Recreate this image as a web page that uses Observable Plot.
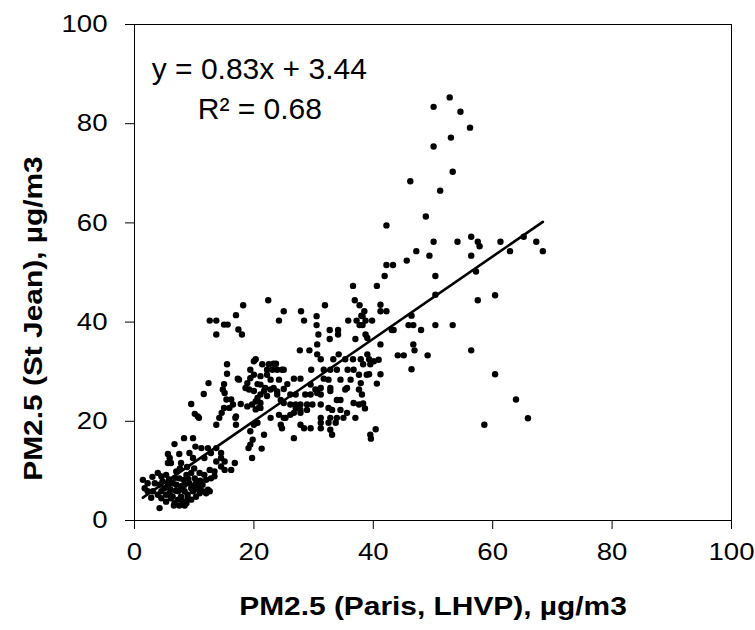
<!DOCTYPE html>
<html>
<head>
<meta charset="utf-8">
<script src="https://cdn.jsdelivr.net/npm/d3@7"></script>
<script src="https://cdn.jsdelivr.net/npm/@observablehq/plot@0.6"></script>
<style>
  html, body { margin: 0; padding: 0; background: #fff; }
  #chart { width: 755px; height: 630px; }
</style>
</head>
<body>
<div id="chart"></div>
<script>
// PM2.5 at Paris (LHVP) vs St Jean, µg/m3
const paris = [
52.8,50.1,54.6,56.2,53.0,50.1,53.3,46.2,51.2,48.8,42.2,50.1,54.1,56.4,57.5,57.8,61.3,65.2,67.3,68.4,
47.2,49.4,56.4,62.9,45.6,42.2,43.3,41.9,50.4,57.2,40.6,50.4,57.5,60.4,41.2,41.2,42.2,39.8,46.4,45.9,
46.7,43.1,43.4,48.0,50.4,53.3,41.2,46.7,46.9,44.1,45.1,49.1,56.4,46.4,40.9,39.3,41.2,40.6,60.4,63.9,
65.9,58.6,40.4,39.6,38.1,38.3,38.6,38.7,39.0,39.5,40.1,38.0,18.2,22.4,25.0,24.2,27.9,28.4,30.5,30.5,
31.9,36.9,37.7,38.5,38.2,35.8,37.2,37.7,38.7,38.2,18.0,32.7,34.1,30.8,32.7,34.1,30.6,37.0,27.7,29.3,
30.6,31.2,39.0,34.2,35.3,20.3,21.4,23.3,23.7,33.3,36.6,37.9,38.3,39.3,19.4,20.0,19.4,22.2,25.0,29.6,
31.7,32.8,33.9,35.7,36.7,37.6,38.9,21.1,22.8,24.2,26.7,27.8,31.7,32.5,34.5,36.2,37.9,18.9,21.1,23.3,
25.6,29.5,30.3,31.2,32.8,35.6,20.0,21.7,30.6,31.2,32.8,21.1,20.6,20.3,23.9,26.1,27.0,28.6,29.5,35.3,
37.6,33.9,34.5,36.7,37.6,24.5,25.0,26.1,27.0,27.8,28.9,29.8,31.2,18.9,21.1,27.8,28.9,32.5,33.1,34.5,
35.6,26.7,27.8,31.2,32.8,33.9,35.0,37.0,22.8,25.0,31.2,32.5,33.7,20.6,24.5,24.7,27.8,28.4,29.5,31.2,
32.8,33.1,19.4,21.7,26.7,39.5,17.8,20.8,21.1,19.8,19.4,20.0,19.1,21.3,19.7,25.3,11.6,15.1,15.4,16.2,
16.5,15.9,9.5,10.1,10.6,15.0,14.6,14.2,13.7,17.0,17.0,8.3,9.8,10.2,6.7,5.6,5.9,5.6,6.1,7.5,
7.8,9.2,9.8,11.2,12.3,12.8,13.7,14.5,11.7,13.7,14.5,15.1,13.4,14.5,12.6,16.8,16.2,15.1,3.9,4.5,
5.3,7.0,7.5,8.7,9.5,10.1,10.9,11.7,12.0,12.8,13.4,1.4,2.2,1.7,2.2,3.1,3.4,4.2,4.7,5.6,
6.4,7.0,7.8,8.4,9.2,9.8,10.3,10.9,11.4,12.3,3.9,4.5,5.3,5.9,6.4,7.3,7.8,8.4,8.9,9.8,
10.3,10.9,11.4,12.0,12.6,4.5,5.3,6.1,6.7,7.3,8.1,8.7,8.9,4.2,6.6,7.5,8.4,17.0,12.6,13.7,
15.0,15.6,13.7,17.4,15.5,15.5,12.4,15.0,17.3,14.8,20.0,22.5,23.1,23.9,24.7,22.2,17.5,18.6,19.2,20.6,
23.9,25.0,21.9,22.8,22.2,19.7,10.8,16.9,24.2,26.1,27.0,20.3,36.6,
5.0,6.0,6.9,8.0,9.5,10.6,5.8,6.8,8.2,9.0,11.0,7.6,8.8,10.0,3.0,2.8,9.5
];
const stJean = [
85.3,83.4,82.4,79.2,77.2,75.4,70.3,68.4,66.5,61.3,59.5,56.2,56.2,57.2,56.2,55.3,56.2,57.2,56.2,54.3,
54.3,53.4,53.4,54.3,52.4,51.5,51.5,49.3,49.3,50.2,47.3,45.5,44.4,45.4,43.5,42.2,42.2,40.3,41.3,39.4,
39.4,38.4,38.4,38.4,39.4,39.4,35.5,35.5,34.3,33.3,33.3,33.3,34.3,30.5,32.4,29.5,29.5,27.6,29.5,24.4,
20.6,19.3,18.4,16.5,25.4,23.6,22.6,37.5,36.8,31.5,32.1,41.3,43.4,44.4,42.2,40.3,42.2,40.3,41.2,39.4,
43.4,44.4,43.4,42.2,41.2,40.3,40.3,39.4,40.3,39.4,37.5,38.4,38.4,37.5,36.6,37.5,35.5,36.6,34.3,34.3,
33.5,32.5,33.5,33.5,32.5,32.5,31.5,31.6,31.6,32.5,32.5,32.5,31.5,32.5,30.4,29.4,28.7,30.4,30.4,30.4,
30.4,30.4,30.4,30.4,30.4,29.4,29.4,29.1,28.4,28.4,28.6,28.6,28.6,28.4,28.4,28.4,27.7,27.7,27.4,26.7,
27.5,27.4,26.4,26.7,26.7,26.7,26.1,26.1,25.7,25.4,26.1,25.4,24.7,24.0,25.4,25.4,25.4,25.4,25.4,26.4,
26.4,24.3,24.3,23.7,23.4,24.3,23.7,23.4,23.4,23.4,23.4,23.4,23.4,23.0,22.7,22.3,22.3,22.7,22.3,22.3,
21.7,21.7,21.7,20.7,20.7,20.7,20.7,20.7,20.7,20.7,19.7,19.7,19.7,19.7,19.3,18.6,19.3,18.6,18.6,18.6,
18.3,17.3,18.0,17.3,16.6,17.3,23.5,22.7,23.7,16.3,15.3,19.3,14.6,14.5,12.6,20.7,25.5,25.7,24.4,24.4,
23.4,22.7,23.5,21.5,21.0,22.7,21.7,20.7,19.3,19.3,21.0,16.6,16.6,14.9,15.4,13.4,12.6,11.6,11.6,13.4,
11.6,13.6,12.6,14.6,14.6,13.6,14.6,13.6,12.6,11.9,12.6,11.9,9.9,10.9,10.2,11.6,10.2,10.2,9.6,8.9,
9.2,9.9,8.5,9.2,9.6,8.5,9.6,9.2,8.2,8.5,8.9,8.2,7.5,6.5,5.9,5.9,7.5,7.2,7.9,7.2,
7.5,7.2,6.9,7.2,7.5,6.9,7.5,6.9,7.2,6.2,5.2,5.9,5.2,5.5,4.8,5.9,4.8,5.9,5.2,5.9,
4.8,5.5,5.9,5.5,5.9,4.5,3.8,4.5,3.5,4.2,3.8,3.5,4.5,2.5,3.0,3.0,3.0,41.4,40.3,40.3,
39.5,39.5,37.5,38.5,31.5,29.6,27.7,27.5,28.6,26.4,32.1,31.5,30.4,30.4,30.4,29.4,28.4,26.7,26.4,27.5,
26.0,26.5,26.7,26.4,25.1,23.4,20.7,20.7,21.3,21.3,22.7,22.4,47.3,
6.5,6.3,6.0,6.3,6.5,6.4,8.3,8.6,8.2,8.4,8.0,10.5,10.8,10.5,8.8,4.6,4.2
];
const xTicks = [0, 20, 40, 60, 80, 100];
const yTicks = [0, 20, 40, 60, 80, 100];
const fitSlope = 0.83;
const fitIntercept = 3.44;
const equationText = ["y = 0.83x + 3.44"];
const r2Text = ["R\u00B2 = 0.68"];
const xTitle = ["PM2.5 (Paris, LHVP), \u00B5g/m3"];
const yTitle = ["PM2.5 (St Jean), \u00B5g/m3"];

const points = paris.map((p, i) => ({paris: p, stJean: stJean[i]}));
const [xMin, xMax] = d3.extent(paris);
const fitLine = [xMin, xMax].map(x => ({x, y: fitSlope * x + fitIntercept}));

const FONT = "'Liberation Sans', Arial, Helvetica, sans-serif";

const chart = Plot.plot({
  width: 755,
  height: 630,
  marginLeft: 134,
  marginRight: 24,
  marginTop: 24,
  marginBottom: 110,
  style: {fontFamily: FONT, fontSize: "24px", color: "#000", background: "#fff", overflow: "visible"},
  x: {domain: [0, 100], ticks: xTicks, tickSize: 9, tickPadding: 13, label: null},
  y: {domain: [0, 100], ticks: yTicks, tickSize: 9, tickPadding: 18, label: null},
  marks: [
    Plot.frame({stroke: "#000", strokeWidth: 1}),
    Plot.dot(points, {x: "paris", y: "stJean", r: 3.2, fill: "#000", stroke: "none"}),
    Plot.line(fitLine, {x: "x", y: "y", stroke: "#000", strokeWidth: 2.6}),
    Plot.text(equationText, {x: 20.9, y: 89.1, text: d => d, textAnchor: "middle", lineAnchor: "bottom", fontSize: 30, fill: "#000"}),
    Plot.text(r2Text, {x: 21.0, y: 81.0, text: d => d, textAnchor: "middle", lineAnchor: "bottom", fontSize: 30, fill: "#000"}),
    Plot.text(xTitle, {frameAnchor: "bottom", text: d => d, dy: 94, textAnchor: "middle", lineAnchor: "bottom", fontSize: 26, fontWeight: "bold", fill: "#000"}),
    Plot.text(yTitle, {frameAnchor: "left", text: d => d, rotate: -90, dx: -93, dy: 46, textAnchor: "middle", lineAnchor: "bottom", fontSize: 26, fontWeight: "bold", fill: "#000"})
  ]
});

document.getElementById("chart").appendChild(chart);

// Horizontally widen axis texts (tick labels and titles) to mimic the stretched lettering of the original
const STRETCH = 1.15;
const titles = new Set([...xTitle, ...yTitle]);
chart.querySelectorAll("text").forEach(t => {
  const parentLabel = (t.parentNode && t.parentNode.getAttribute("aria-label")) || "";
  const isTick = /tick label/.test(parentLabel);
  const isTitle = titles.has(t.textContent);
  if (!isTick && !isTitle) return;
  const tr = t.getAttribute("transform") || "";
  t.setAttribute("transform", `${tr} scale(${STRETCH},1)`.trim());
});
</script>
</body>
</html>
